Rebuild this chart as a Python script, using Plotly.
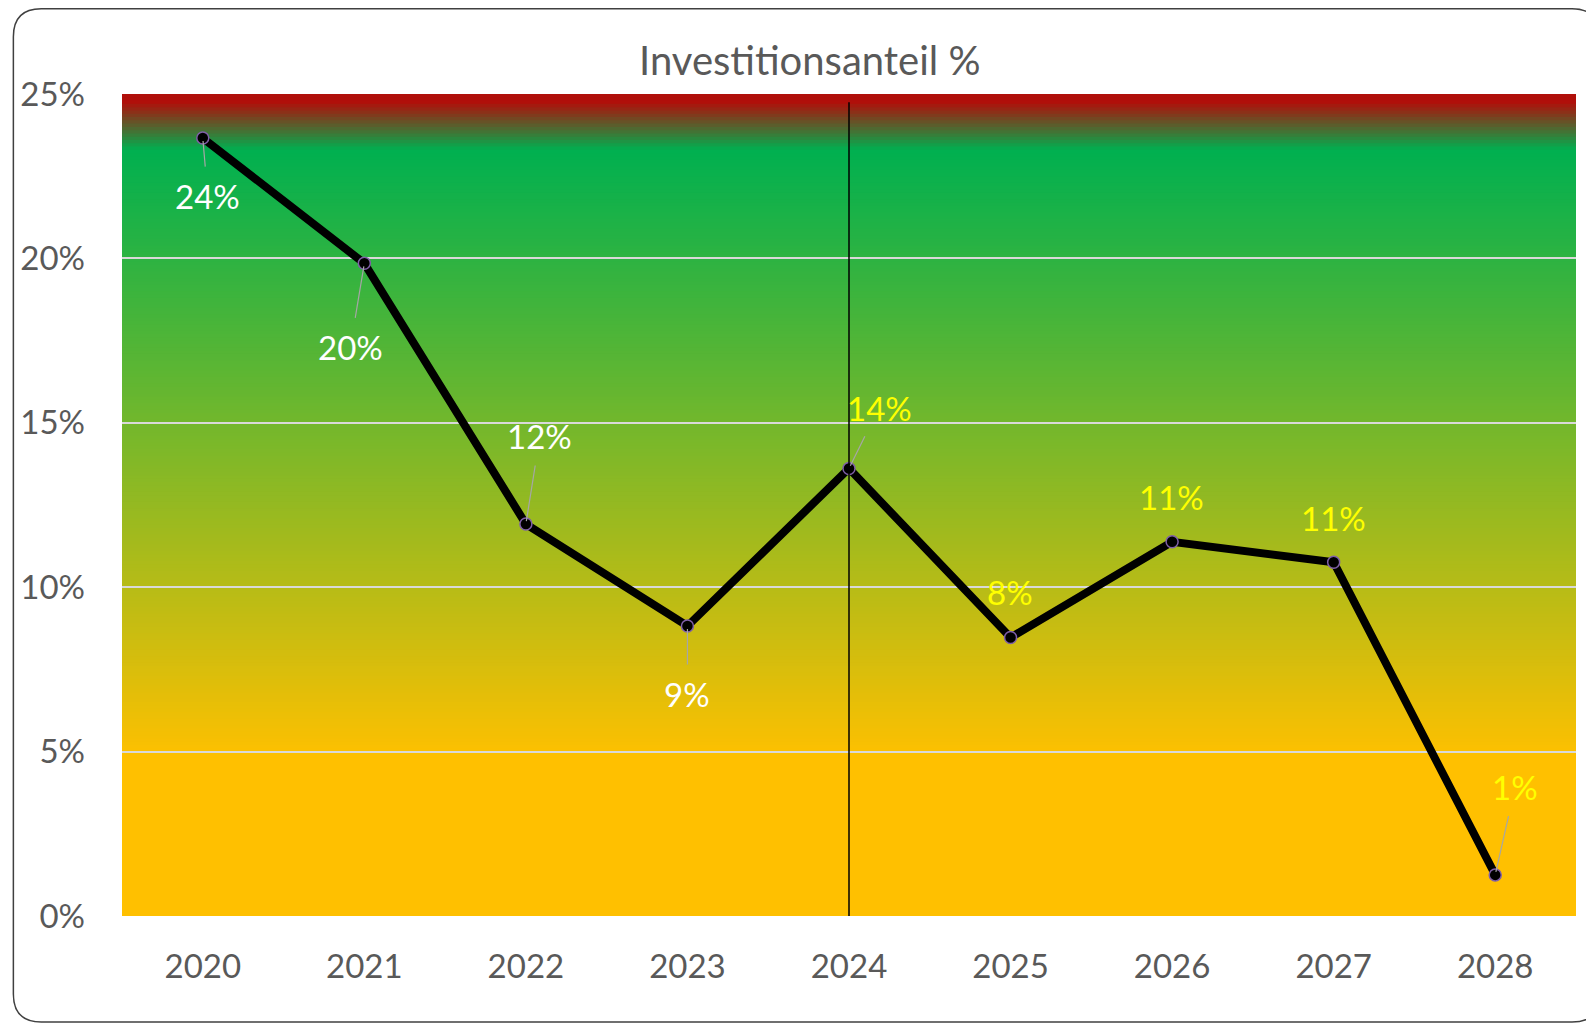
import plotly.graph_objects as go
from plotly.colors import sample_colorscale

years = ["2020", "2021", "2022", "2023", "2024", "2025", "2026", "2027", "2028"]
invest_share = [0.2366, 0.1985, 0.1192, 0.0882, 0.1361, 0.0847, 0.1138, 0.1076, 0.0125]
label_colors = ["white", "white", "white", "white", "#FFFF00", "#FFFF00", "#FFFF00", "#FFFF00", "#FFFF00"]
divider_year = "2024"

# label offsets (px) and whether a leader line is drawn
label_offsets = [(5, 58, True), (-14, 84, True), (14, -88, True), (0, 68, True), (30, -61, True),
                 (-1, -46, False), (-1, -45, False), (0, -44, False), (20, -88, True)]

# page body has an 8px margin, so the figure is a bit smaller than the window
OFF = 8
W, H = 1586, 1016
L, R, T, B = 109, 18, 86, 108
PW, PH = W - L - R, H - T - B
FONT = "Lato"
GREY = "#595959"

# background gradient (Excel style): gold -> green -> red
bg_scale = [[0.0, "#FFC000"], [0.19, "#FFC000"], [0.932, "#00B050"], [0.99, "#B00F0A"], [1.0, "#B00F0A"]]
n_bands = 250
band_cols = sample_colorscale(bg_scale, [(i + 0.5) / n_bands for i in range(n_bands)])

fig = go.Figure()

shapes = []
for i, c in enumerate(band_cols):
    shapes.append(dict(type="rect", xref="paper", yref="y", x0=0, x1=1,
                       y0=0.25 * i / n_bands, y1=min(0.25, 0.25 * (i + 1.3) / n_bands),
                       fillcolor=c, line=dict(width=0), layer="below"))

# vertical divider at the current year
xi = years.index(divider_year)
shapes.append(dict(type="line", xref="x", yref="y", x0=xi, x1=xi, y0=0, y1=0.2475,
                   line=dict(color="black", width=1.5), layer="above"))


def px2paper(px, py):
    # screen pixel -> paper coords
    return (px - OFF - L) / PW, (H - B - (py - OFF)) / PH


# rounded chart border
x0, y0, x1, y1, r = 8, 8.8, 1600, 1022, 28
pts = [("M", x0 + r, y0), ("L", x1 - r, y0), ("Q", x1, y0, x1, y0 + r), ("L", x1, y1 - r),
       ("Q", x1, y1, x1 - r, y1), ("L", x0 + r, y1), ("Q", x0, y1, x0, y1 - r), ("L", x0, y0 + r),
       ("Q", x0, y0, x0 + r, y0)]
path = ""
for p in pts:
    cmd, coords = p[0], p[1:]
    seg = []
    for k in range(0, len(coords), 2):
        a, b = px2paper(coords[k], coords[k + 1])
        seg.append(f"{a:.5f},{b:.5f}")
    path += cmd + " ".join(seg) + " "
path += "Z"
shapes.append(dict(type="path", xref="paper", yref="paper", path=path,
                   line=dict(color="#404040", width=1.5), fillcolor="rgba(0,0,0,0)"))

xs = list(range(len(years)))
fig.add_trace(go.Scatter(
    x=xs, y=invest_share, mode="lines+markers",
    line=dict(color="black", width=8),
    marker=dict(size=12, color="black", line=dict(color="#7F5FA8", width=1.5)),
    hoverinfo="skip", showlegend=False,
))

annotations = []
for x, v, col, (ax, ay, leader) in zip(xs, invest_share, label_colors, label_offsets):
    annotations.append(dict(
        x=x, y=v, xref="x", yref="y", text=f"{v:.0%}", ax=ax, ay=ay,
        showarrow=True, arrowhead=0, arrowwidth=1.2,
        arrowcolor="#A6A6A6" if leader else "rgba(0,0,0,0)",
        startstandoff=8, standoff=3,
        font=dict(family=FONT, size=33, color=col),
    ))

tx, ty = px2paper(807, 60)
annotations.append(dict(x=tx, y=ty, xref="paper", yref="paper", xanchor="center", yanchor="middle",
                        text="Investitionsanteil %", showarrow=False,
                        font=dict(family=FONT, size=40, color=GREY)))

fig.update_layout(
    width=W, height=H,
    margin=dict(l=L, r=R, t=T, b=B),
    paper_bgcolor="white", plot_bgcolor="white",
    shapes=shapes, annotations=annotations,
    font=dict(family=FONT, color=GREY),
    xaxis=dict(range=[-0.5, len(years) - 0.5], tickvals=xs, ticktext=years,
               showgrid=False, zeroline=False, showline=False,
               tickfont=dict(size=33, color=GREY), ticklabelstandoff=28, fixedrange=True),
    yaxis=dict(range=[0, 0.25], dtick=0.05, tickformat=".0%",
               showgrid=True, gridcolor="#D9D9D9", gridwidth=1.5, zeroline=False, showline=False,
               tickfont=dict(size=33, color=GREY), ticklabelstandoff=36, fixedrange=True),
)

fig.write_html("out.html")
